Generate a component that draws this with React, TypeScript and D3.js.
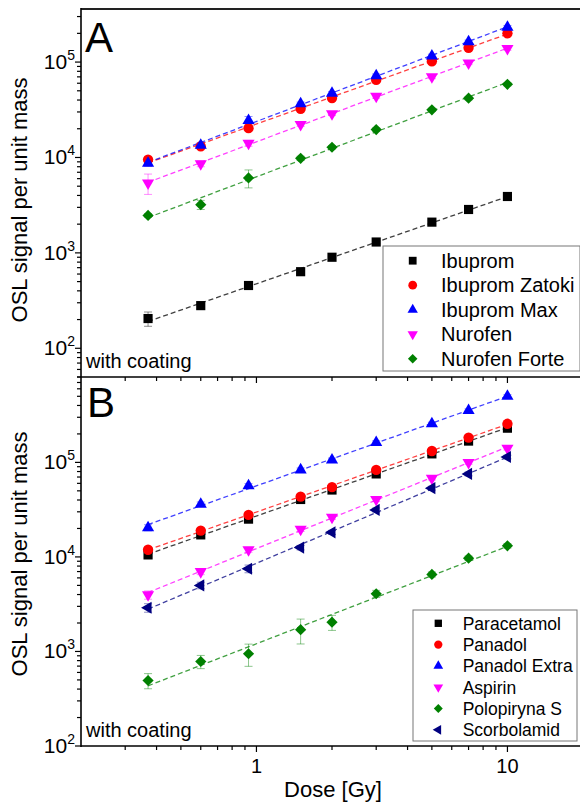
import React, { useRef, useEffect } from "react";
import * as d3 from "d3";

// doses [Gy], shared by both panels
const doses = [0.37, 0.6, 0.93, 1.5, 2, 3, 5, 7, 10];

// panel A
const ibuprom = [205, 280, 455, 635, 900, 1300, 2100, 2850, 3900];
const ibupromErr = [35, 20, 25, 30, 40, 50, 80, 100, 130];
const ibupromZatoki = [9500, 13100, 20300, 32400, 41900, 65000, 102000, 141000, 200000];
const ibupromZatokiErr = [500, 600, 900, 1200, 1500, 2500, 4000, 5000, 7000];
const ibupromMax = [8700, 13400, 24400, 36600, 47000, 72000, 116000, 163000, 232000];
const ibupromMaxErr = [600, 900, 2500, 1500, 2000, 3000, 5000, 7000, 10000];
const nurofen = [5400, 8600, 14100, 22200, 28700, 43800, 70000, 98000, 139000];
const nurofenErr = [1300, 600, 1000, 1000, 1200, 2000, 3000, 4000, 6000];
const nurofenForte = [2470, 3200, 6100, 9800, 12800, 19600, 31600, 41800, 58500];
const nurofenForteErr = [100, 350, 1300, 500, 500, 800, 1200, 1600, 2200];

// panel B
const paracetamol = [10500, 17100, 25100, 40500, 51000, 75500, 123000, 168000, 230000];
const paracetamolErr = [500, 700, 1000, 1500, 2000, 3000, 5000, 7000, 9000];
const panadol = [11900, 19000, 27800, 43500, 54700, 83200, 132000, 183000, 256000];
const panadolErr = [600, 800, 1100, 1700, 2200, 3300, 5000, 7000, 10000];
const panadolExtra = [20400, 36100, 56600, 83300, 106000, 162000, 256000, 354000, 500000];
const panadolExtraErr = [1500, 2000, 3000, 4000, 5000, 7000, 10000, 14000, 20000];
const aspirin = [3970, 6990, 11900, 19600, 26300, 40500, 68100, 99500, 141000];
const aspirinErr = [400, 500, 700, 1000, 1300, 2000, 3000, 4000, 6000];
const polopiryna = [493, 783, 946, 1700, 2040, 4080, 6530, 9700, 13100];
const polopirynaErr = [90, 125, 250, 500, 370, 350, 400, 500, 700];
const scorbolamid = [2900, 5000, 7500, 12550, 18200, 31400, 53400, 75500, 114000];
const scorbolamidErr = [300, 400, 700, 700, 900, 1500, 2500, 3500, 5000];

const namesA = ["Ibuprom", "Ibuprom Zatoki", "Ibuprom Max", "Nurofen", "Nurofen Forte"];
const namesB = ["Paracetamol", "Panadol", "Panadol Extra", "Aspirin", "Polopiryna S", "Scorbolamid"];
const colorsA = ["#000000", "#ff0000", "#0000ff", "#ff00ff", "#008000"];
const colorsB = ["#000000", "#ff0000", "#0000ff", "#ff00ff", "#008000", "#000080"];
const shapesA = ["square", "circle", "up", "down", "diamond"];
const shapesB = ["square", "circle", "up", "down", "diamond", "left"];
const xTickLabels = ["1", "10"];

const seriesA = [ibuprom, ibupromZatoki, ibupromMax, nurofen, nurofenForte].map((v, i) => ({
  name: namesA[i],
  values: v,
  err: [ibupromErr, ibupromZatokiErr, ibupromMaxErr, nurofenErr, nurofenForteErr][i],
  color: colorsA[i],
  shape: shapesA[i],
}));
const seriesB = [paracetamol, panadol, panadolExtra, aspirin, polopiryna, scorbolamid].map((v, i) => ({
  name: namesB[i],
  values: v,
  err: [paracetamolErr, panadolErr, panadolExtraErr, aspirinErr, polopirynaErr, scorbolamidErr][i],
  color: colorsB[i],
  shape: shapesB[i],
}));

const FONT = "'Liberation Sans', Arial, sans-serif";

// power-law fit, least squares in log-log space
function fitLogLog(xs: number[], ys: number[]) {
  const lx = xs.map(Math.log10);
  const ly = ys.map(Math.log10);
  const mx = d3.mean(lx)!;
  const my = d3.mean(ly)!;
  let sxy = 0, sxx = 0;
  lx.forEach((v, i) => {
    sxy += (v - mx) * (ly[i] - my);
    sxx += (v - mx) * (v - mx);
  });
  const b = sxy / sxx;
  return (x: number) => Math.pow(10, my + b * (Math.log10(x) - mx));
}

function symbolPath(shape: string, k = 1) {
  const s = d3.symbol();
  if (shape === "square") return { d: s.type(d3.symbolSquare).size(84 * k * k)()!, rot: 0 };
  if (shape === "circle") return { d: s.type(d3.symbolCircle).size(84 * k * k)()!, rot: 0 };
  if (shape === "diamond") return { d: s.type(d3.symbolDiamond2).size(80 * k * k)()!, rot: 0 };
  const d = s.type(d3.symbolTriangle).size(64 * k * k)()!;
  if (shape === "up") return { d, rot: 0 };
  if (shape === "down") return { d, rot: 180 };
  return { d, rot: -90 };
}

const App = () => {
  const svgRef = useRef<SVGSVGElement>(null);

  useEffect(() => {
    const svg = d3.select(svgRef.current);
    svg.selectAll("*").remove();

    const x = d3.scaleLog().domain([0.2, 20]).range([81, 583]);
    const yA = d3.scaleLog().domain([50, 3.6e5]).range([377, 9]);
    const yB = d3.scaleLog().domain([100, 8e5]).range([746, 377]);

    const panels = [
      {
        y: yA, series: seriesA, letter: "A", letterX: 85, letterY: 52, labelCy: 200,
        legend: { x: 383, y: 246, w: 197, h: 125, symX: 412.7, textX: 441, row0: 260.7, dy: 24.5, fs: 20, k: 0.85 },
      },
      {
        y: yB, series: seriesB, letter: "B", letterX: 87, letterY: 417, labelCy: 554,
        legend: { x: 413, y: 610, w: 164, h: 131, symX: 438.3, textX: 462.7, row0: 623.3, dy: 21.3, fs: 17.5, k: 0.8 },
      },
    ];

    const xMinor: number[] = [];
    [-1, 0, 1].forEach((e) =>
      d3.range(2, 10).forEach((k) => {
        const v = k * Math.pow(10, e);
        if (v > 0.2 && v < 20) xMinor.push(v);
      })
    );
    const xMajor = xTickLabels.map(Number);

    panels.forEach((p) => {
      const [yLo, yHi] = p.y.domain();
      const bottom = p.y.range()[0];
      const g = svg.append("g");

      // fit lines
      p.series.forEach((s) => {
        const f = fitLogLog(doses, s.values);
        const x0 = doses[0], x1 = doses[doses.length - 1];
        g.append("line")
          .attr("x1", x(x0)).attr("y1", p.y(f(x0)))
          .attr("x2", x(x1)).attr("y2", p.y(f(x1)))
          .attr("stroke", s.color)
          .attr("stroke-opacity", 0.75)
          .attr("stroke-width", 1.3)
          .attr("stroke-dasharray", "5,3");
      });

      // error bars
      p.series.forEach((s) => {
        s.values.forEach((v, i) => {
          const cx = x(doses[i]);
          const lo = p.y(Math.max(v - s.err[i], yLo));
          const hi = p.y(v + s.err[i]);
          const eg = g.append("g").attr("stroke", s.color).attr("stroke-opacity", 0.45).attr("stroke-width", 1);
          eg.append("line").attr("x1", cx).attr("x2", cx).attr("y1", lo).attr("y2", hi);
          eg.append("line").attr("x1", cx - 4).attr("x2", cx + 4).attr("y1", lo).attr("y2", lo);
          eg.append("line").attr("x1", cx - 4).attr("x2", cx + 4).attr("y1", hi).attr("y2", hi);
        });
      });

      // markers
      p.series.forEach((s) => {
        const sym = symbolPath(s.shape);
        s.values.forEach((v, i) => {
          g.append("path")
            .attr("d", sym.d)
            .attr("transform", `translate(${x(doses[i])},${p.y(v)}) rotate(${sym.rot})`)
            .attr("fill", s.color);
        });
      });

      // y ticks
      const eLo = Math.floor(Math.log10(yLo));
      const eHi = Math.floor(Math.log10(yHi));
      for (let e = eLo; e <= eHi; e++) {
        for (let k = 1; k <= 9; k++) {
          const v = k * Math.pow(10, e);
          if (v < yLo * 0.999 || v > yHi * 1.001) continue;
          const yy = p.y(v);
          g.append("line")
            .attr("x1", 81 - (k === 1 ? 6 : 4)).attr("x2", 81)
            .attr("y1", yy).attr("y2", yy)
            .attr("stroke", "#000").attr("stroke-width", 1.2);
          if (k === 1) {
            const t = g.append("text")
              .attr("x", 75).attr("y", yy + 7)
              .attr("text-anchor", "end")
              .attr("font-family", FONT).attr("font-size", 21)
              .text("10");
            t.append("tspan").attr("dy", -9).attr("font-size", 14).text(String(e));
          }
        }
      }

      // x ticks at panel bottom (pointing down)
      xMinor.forEach((v) => {
        g.append("line")
          .attr("x1", x(v)).attr("x2", x(v))
          .attr("y1", bottom).attr("y2", bottom + 4)
          .attr("stroke", "#000").attr("stroke-width", 1.2);
      });
      xMajor.forEach((v) => {
        g.append("line")
          .attr("x1", x(v)).attr("x2", x(v))
          .attr("y1", bottom).attr("y2", bottom + 6)
          .attr("stroke", "#000").attr("stroke-width", 1.2);
      });

      // bottom axis line
      g.append("line")
        .attr("x1", 81).attr("x2", 580)
        .attr("y1", bottom).attr("y2", bottom)
        .attr("stroke", "#000").attr("stroke-width", 1.6);

      // panel letter
      g.append("text")
        .attr("x", p.letterX).attr("y", p.letterY)
        .attr("font-family", FONT).attr("font-size", 42)
        .text(p.letter);

      g.append("text")
        .attr("x", 86).attr("y", bottom - 9)
        .attr("font-family", FONT).attr("font-size", 20)
        .text("with coating");

      // y axis title
      g.append("text")
        .attr("transform", `translate(27,${p.labelCy}) rotate(-90)`)
        .attr("text-anchor", "middle")
        .attr("font-family", FONT).attr("font-size", 22)
        .text("OSL signal per unit mass");

      // legend
      const L = p.legend;
      g.append("rect")
        .attr("x", L.x).attr("y", L.y).attr("width", L.w).attr("height", L.h)
        .attr("fill", "#fff").attr("stroke", "#777").attr("stroke-width", 1);
      p.series.forEach((s, i) => {
        const ry = L.row0 + i * L.dy;
        const sym = symbolPath(s.shape, L.k);
        g.append("path")
          .attr("d", sym.d)
          .attr("transform", `translate(${L.symX},${ry}) rotate(${sym.rot})`)
          .attr("fill", s.color);
        g.append("text")
          .attr("x", L.textX).attr("y", ry + L.fs * 0.36)
          .attr("font-family", FONT).attr("font-size", L.fs)
          .text(s.name);
      });
    });

    // frame: top line and left axis
    svg.append("line")
      .attr("x1", 81).attr("x2", 580).attr("y1", 9).attr("y2", 9)
      .attr("stroke", "#222").attr("stroke-width", 1.8);
    svg.append("line")
      .attr("x1", 81).attr("x2", 81).attr("y1", 8).attr("y2", 747)
      .attr("stroke", "#000").attr("stroke-width", 1.6);

    // x tick labels + title
    xMajor.forEach((v, i) => {
      svg.append("text")
        .attr("x", x(v)).attr("y", 773)
        .attr("text-anchor", "middle")
        .attr("font-family", FONT).attr("font-size", 20)
        .text(xTickLabels[i]);
    });
    svg.append("text")
      .attr("x", 333).attr("y", 797)
      .attr("text-anchor", "middle")
      .attr("font-family", FONT).attr("font-size", 22)
      .text("Dose [Gy]");
  }, []);

  return (
    <svg
      ref={svgRef}
      width={580}
      height={802}
      style={{ position: "absolute", left: 0, top: 0, background: "#fff" }}
    />
  );
};

export default App;
